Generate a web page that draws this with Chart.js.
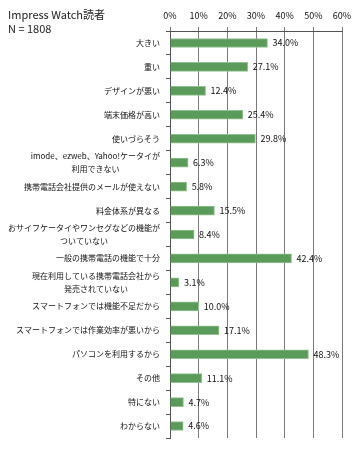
<!DOCTYPE html>
<html>
<head>
<meta charset="utf-8">
<script src="https://cdn.jsdelivr.net/npm/chart.js@4"></script>
<style>
  body { margin: 0; background: #fff; }
  #wrap { position: relative; width: 360px; height: 449px; }
  #head { position: absolute; left: 8px; top: 7px; font: 11px "Noto Sans CJK JP", sans-serif; line-height: 14px; color: #222; }
</style>
</head>
<body>
<div id="wrap">
  <canvas id="reasonChart" width="360" height="449"></canvas>
  <div id="head">Impress Watch読者<br>N = 1808</div>
</div>
<script>
var categories = [
  ["大きい"],
  ["重い"],
  ["デザインが悪い"],
  ["端末価格が高い"],
  ["使いづらそう"],
  ["imode、ezweb、Yahoo!ケータイが", "利用できない"],
  ["携帯電話会社提供のメールが使えない"],
  ["料金体系が異なる"],
  ["おサイフケータイやワンセグなどの機能が", "ついていない"],
  ["一般の携帯電話の機能で十分"],
  ["現在利用している携帯電話会社から", "発売されていない"],
  ["スマートフォンでは機能不足だから"],
  ["スマートフォンでは作業効率が悪いから"],
  ["パソコンを利用するから"],
  ["その他"],
  ["特にない"],
  ["わからない"]
];
var values = [34.0, 27.1, 12.4, 25.4, 29.8, 6.3, 5.8, 15.5, 8.4, 42.4, 3.1, 10.0, 17.1, 48.3, 11.1, 4.7, 4.6];
var xTicks = [0, 10, 20, 30, 40, 50, 60];

var font = '"Noto Sans CJK JP", sans-serif';

// category labels, each block right-aligned, lines centred inside the block
var yLabels = {
  id: "yLabels",
  afterDraw: function(chart) {
    var ctx = chart.ctx;
    var y = chart.scales.y;
    ctx.save();
    ctx.font = "8px " + font;
    ctx.fillStyle = "#111";
    ctx.textAlign = "center";
    ctx.textBaseline = "middle";
    categories.forEach(function(lines, i) {
      var w = 0;
      lines.forEach(function(l) { w = Math.max(w, ctx.measureText(l).width); });
      var cx = 160 - w / 2;
      var cy = y.getPixelForTick(i);
      var lh = 12.5;
      lines.forEach(function(l, j) {
        ctx.fillText(l, cx, cy + (j - (lines.length - 1) / 2) * lh);
      });
    });
    ctx.restore();
  }
};

// value labels at the bar ends
var valueLabels = {
  id: "valueLabels",
  afterDatasetsDraw: function(chart) {
    var ctx = chart.ctx;
    var meta = chart.getDatasetMeta(0);
    ctx.save();
    ctx.font = "9px " + font;
    ctx.fillStyle = "#111";
    ctx.textAlign = "left";
    ctx.textBaseline = "middle";
    meta.data.forEach(function(bar, i) {
      ctx.fillText(values[i].toFixed(1) + "%", bar.x + 5, bar.y);
    });
    ctx.restore();
  }
};

new Chart("reasonChart", {
  type: "bar",
  data: {
    labels: categories,
    datasets: [{
      data: values,
      backgroundColor: "#5a9b5a",
      borderColor: "#93c193",
      borderWidth: 1,
      barThickness: 9
    }]
  },
  options: {
    indexAxis: "y",
    responsive: false,
    animation: false,
    layout: { padding: { left: 0, right: 18, top: 0, bottom: 11 } },
    plugins: { legend: { display: false }, tooltip: { enabled: false } },
    scales: {
      x: {
        position: "top",
        min: 0,
        max: 60,
        afterBuildTicks: function(scale) {
          scale.ticks = xTicks.map(function(v) { return { value: v }; });
        },
        afterFit: function(scale) { scale.height = 31; },
        ticks: {
          padding: 6,
          font: { size: 9, family: font },
          color: "#111",
          callback: function(v) { return v + "%"; }
        },
        grid: { color: "#7a7a7a", lineWidth: 1, tickLength: 4 },
        border: { color: "#555" }
      },
      y: {
        afterFit: function(scale) { scale.width = 170; },
        ticks: { display: false },
        grid: { drawOnChartArea: false, tickLength: 4, color: "#555", offset: true },
        border: { color: "#555" }
      }
    }
  },
  plugins: [yLabels, valueLabels]
});
</script>
</body>
</html>
